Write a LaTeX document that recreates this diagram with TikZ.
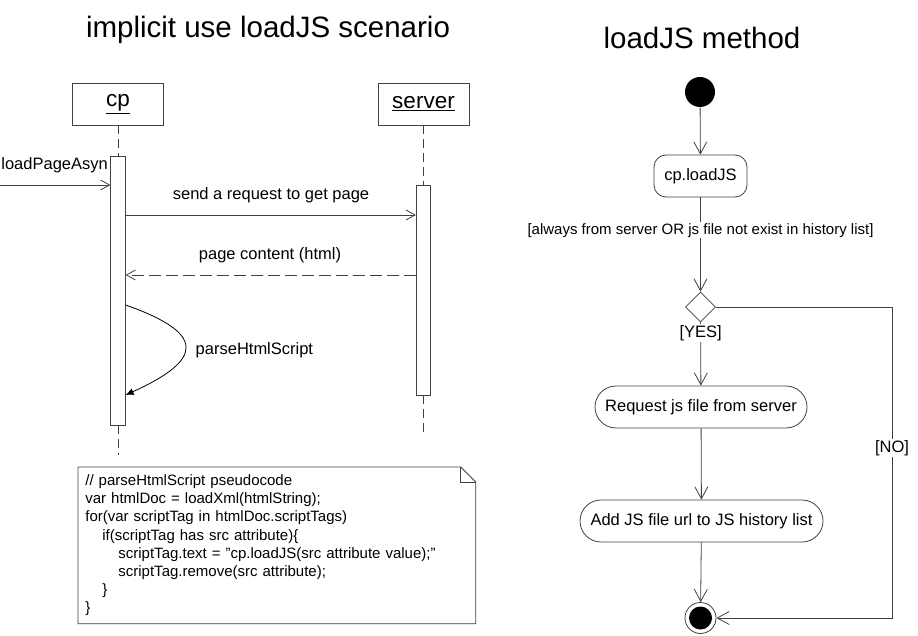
\documentclass[tikz,border=0pt]{standalone}
\usepackage{fontspec}
\setmainfont{Liberation Sans}
\usetikzlibrary{arrows.meta,shapes.geometric}

\begin{document}
\begin{tikzpicture}[x=1pt, y=-1pt, line width=0.8pt,
	every node/.style={font=\fontsize{16.5}{19}\selectfont},
	title/.style={font=\fontsize{29.5}{34}\selectfont, anchor=base},
	object/.style={draw=black!75, minimum width=91pt, minimum height=42pt, inner sep=0pt,
		font=\fontsize{22.5}{26}\selectfont},
	activation/.style={draw=black!75, fill=white, minimum width=14.5pt, inner sep=0pt},
	lifeline/.style={draw=black!75, dash pattern=on 9pt off 5pt},
	msg/.style={draw=black!75, -{Straight Barb[length=9pt,width=10pt]}},
	reply/.style={msg, dash pattern=on 12pt off 5pt},
	selfmsg/.style={draw=black, -{Latex[length=8pt,width=7pt]}},
	notetext/.style={font=\fontsize{15}{18.2}\selectfont, text width=383pt, align=left,
		inner xsep=7pt, inner ysep=5pt, minimum height=156pt, anchor=north west},
	state/.style={draw=black!75, rounded corners=12pt, minimum height=42pt, inner sep=0pt},
	pill/.style={state, rounded corners=21pt},
	flow/.style={draw=black!75, -{Straight Barb[length=12pt,width=13pt]}},
	guard/.style={fill=white, inner sep=1pt}
]
\useasboundingbox (0,0) rectangle (918,636);

\node[title] (seqtitle) at (268,38) {implicit use loadJS scenario};
\node[title] (acttitle) at (702,49) {loadJS method};

\node[object] (cp) at (118,104) {\underline{cp}};
\node[object] (server) at (423.5,104) {\underline{server}};
\node[activation, minimum height=269pt] (cpact) at (118,290.5) {};
\node[activation, minimum height=210pt] (srvact) at (423.5,290) {};
\coordinate (cpend) at (118,455);
\coordinate (srvend) at (423.5,432);

\draw[lifeline] (cp) -- (cpact);
\draw[lifeline] (cpact) -- (cpend);
\draw[lifeline] (server) -- (srvact);
\draw[lifeline] (srvact) -- (srvend);

\coordinate (caller) at (0,185);
\draw[msg] (caller) -- (cpact.west |- caller);
\node[anchor=west, inner sep=1pt] (loadlbl) at (0,165) {loadPageAsyn};

\draw[msg] (cpact.east |- 0,215) -- (srvact.west |- 0,215);
\node (sendlbl) at (271,195) {send a request to get page};

\draw[reply] (srvact.west |- 0,275) -- (cpact.east |- 0,275);
\node (replylbl) at (270,255) {page content (html)};

\draw[selfmsg] (cpact.east |- 0,305) .. controls (205,333) and (205,359) ..
	(cpact.east |- 0,395);
\node[anchor=west] (parselbl) at (192,350) {parseHtmlScript};

\node[notetext] (note) at (78,467) {// parseHtmlScript pseudocode\\
	var htmlDoc = loadXml(htmlString);\\
	for(var scriptTag in htmlDoc.scriptTags)\\
	\hspace*{17pt}if(scriptTag has src attribute)\{\\
	\hspace*{33pt}scriptTag.text = \char"22 cp.loadJS(src attribute value);\char"22\\
	\hspace*{33pt}scriptTag.remove(src attribute);\\
	\hspace*{17pt}\}\\
	\}};
\draw[black!75] (note.north west) -- ([xshift=-15pt]note.north east)
	-- ([yshift=-15pt]note.north east) -- (note.south east)
	-- (note.south west) -- cycle;
\draw[black!75] ([xshift=-15pt]note.north east) -- ([xshift=-15pt,yshift=-15pt]note.north east)
	-- ([yshift=-15pt]note.north east);

\node[circle, fill=black, minimum size=30pt, inner sep=0pt] (start) at (700,92) {};
\node[state, minimum width=93pt] (loadjs) at (700.5,176) {cp.loadJS};
\node[diamond, draw=black!75, fill=white, minimum size=30pt, inner sep=0pt] (decision) at (700.5,307) {};
\node[pill, minimum width=212pt] (request) at (701,407) {Request js file from server};
\node[pill, minimum width=243pt] (addjs) at (701.5,521) {Add JS file url to JS history list};
\node[circle, draw=black!75, minimum size=31pt, inner sep=0pt,
	path picture={\fill (path picture bounding box.center) circle (11.5pt);}] (end) at (700.5,618) {};
\coordinate (noturn) at (892,307);
\coordinate (nobottom) at (892,618);

\draw[flow] (start) -- (loadjs);
\draw[flow] (loadjs) -- node[guard, pos=0.35, font=\fontsize{15}{18}\selectfont] (cond)
	{[always from server OR js file not exist in history list]} (decision);
\draw[flow] (decision) -- node[guard, pos=0.17] (yes) {[YES]} (request);
\draw[flow] (request) -- (addjs);
\draw[flow] (addjs) -- (end);
\draw[flow] (decision.east) -- (noturn) -- node[guard, pos=0.453] (no) {[NO]} (nobottom)
	-- (end);

\end{tikzpicture}
\end{document}
